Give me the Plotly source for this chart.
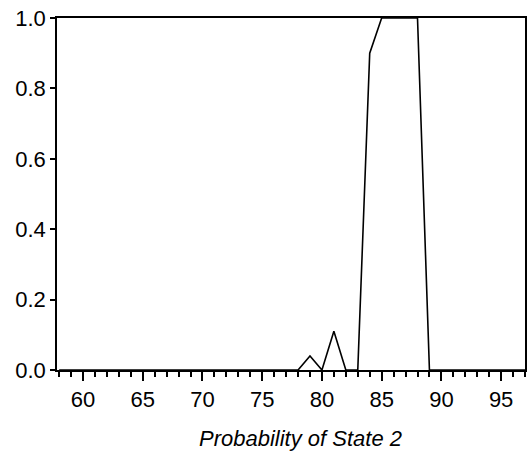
import plotly.graph_objects as go

x_vals = list(range(58, 98))
y_vals = [0.0] * 21 + [0.04, 0.0, 0.11, 0.0, 0.0, 0.9, 1.0, 1.0, 1.0, 1.0] + [0.0] * 9
y_ticks = [0.0, 0.2, 0.4, 0.6, 0.8, 1.0]
y_ticklabels = ["0.0", "0.2", "0.4", "0.6", "0.8", "1.0"]
x_ticks = [60, 65, 70, 75, 80, 85, 90, 95]
x_title = "Probability of State 2"

fig = go.Figure()
fig.add_trace(go.Scatter(x=x_vals, y=y_vals, mode="lines",
                         line=dict(color="black", width=1.6), showlegend=False,
                         hoverinfo="skip"))

font = dict(family="Liberation Sans, Arial, sans-serif", size=22, color="black")
fig.update_layout(
    width=530, height=458,
    margin=dict(l=57, r=5, t=18, b=88, autoexpand=False),
    paper_bgcolor="white", plot_bgcolor="white",
    font=font,
    xaxis=dict(range=[57.82, 97], tickmode="array", tickvals=x_ticks,
               ticktext=[str(v) for v in x_ticks],
               ticks="outside", ticklen=9, tickwidth=1.5, tickcolor="black",
               minor=dict(dtick=1, tick0=58, ticks="outside", ticklen=5, tickwidth=1.5, tickcolor="black"),
               showline=True, linecolor="black", linewidth=1.6, mirror=True,
               showgrid=False, zeroline=False, tickfont=font, automargin=False,
               ticklabeloverflow="allow"),
    yaxis=dict(range=[0, 1], tickmode="array", tickvals=y_ticks, ticktext=y_ticklabels,
               ticks="outside", ticklen=5, tickwidth=1.5, tickcolor="black",
               showline=True, linecolor="black", linewidth=1.6, mirror=True,
               showgrid=False, zeroline=False, tickfont=font, automargin=False,
               ticklabeloverflow="allow"),
    annotations=[dict(text="<i>" + x_title + "</i>", xref="paper", yref="paper",
                      x=0.52, y=0, yshift=-68, xanchor="center", yanchor="middle",
                      showarrow=False, font=dict(family="Liberation Sans, Arial, sans-serif", size=22, color="black"))],
)
fig.write_html("out.html", config={"displayModeBar": False},
               post_script="document.body.style.margin='0';")
